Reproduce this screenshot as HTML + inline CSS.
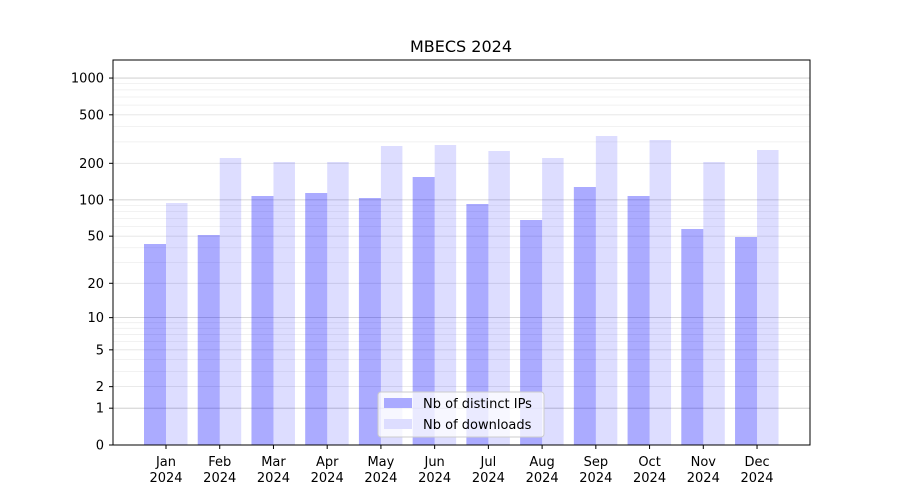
<!DOCTYPE html>
<html><head><meta charset="utf-8"><style>body{margin:0;background:#fff}svg{display:block}text{font-family:"DejaVu Sans","Liberation Sans",sans-serif;fill:#000}</style></head><body>
<svg width="900" height="500" viewBox="0 0 900 500" xmlns="http://www.w3.org/2000/svg">
<rect width="900" height="500" fill="#fff"/>
<g id="grid"></g>
<g id="bars"></g>
<rect x="113" y="60" width="697" height="385" fill="none" stroke="#000" stroke-width="1"/>
<g id="yt" font-size="13"></g>
<g id="xt" font-size="13"></g>
<text x="461" y="52" font-size="16" text-anchor="middle">MBECS 2024</text>
<g>
<rect x="378" y="392" width="166" height="45" rx="3" fill="#fff" fill-opacity="0.75" stroke="#ccc"/>
<rect x="384" y="398" width="28" height="10" fill="#aaaaff"/>
<text x="423" y="408" font-size="13">Nb of distinct IPs</text>
<rect x="384" y="419" width="28" height="10" fill="#ddddff"/>
<text x="423" y="429" font-size="13">Nb of downloads</text>
</g>
<script>
const ns="http://www.w3.org/2000/svg";
function Y(v){return 445-122.3*Math.log10(v+1);}
function el(p,t,a,txt){const e=document.createElementNS(ns,t);for(const k in a)e.setAttribute(k,a[k]);if(txt!==undefined)e.textContent=txt;document.getElementById(p).appendChild(e);}
[3,4,6,7,8,9,30,40,60,70,80,90,300,400,600,700,800,900].forEach(v=>{const y=Y(v);el("grid","line",{x1:113,x2:810,y1:y,y2:y,stroke:"#eee","stroke-width":0.8});});
[0,1,2,5,10,20,50,100,200,500,1000].forEach(v=>{const y=Y(v);
 const major=[0,1,10,100,1000].includes(v);
 el("grid","line",{x1:113,x2:810,y1:y,y2:y,stroke:major?"#c8c8c8":"#e4e4e4","stroke-width":0.8});
 el("yt","line",{x1:109,x2:113,y1:y,y2:y,stroke:"#000"});
 el("yt","text",{x:104,y:y+4.5,"text-anchor":"end"},String(v));});
const ip=[244,235,196,193,198,177,204,220,187,196,229,237];
const dl=[203,158,162,162,146,145,151,158,136,140,162,150];
const m=["Jan","Feb","Mar","Apr","May","Jun","Jul","Aug","Sep","Oct","Nov","Dec"];
for(let i=0;i<12;i++){const c=166+i*53.73;
 el("bars","rect",{x:c-22,y:ip[i],width:22,height:445-ip[i],fill:"#0000ff","fill-opacity":0.33});
 el("bars","rect",{x:c,y:dl[i],width:21.5,height:445-dl[i],fill:"#0000ff","fill-opacity":0.135});
 el("xt","line",{x1:c,x2:c,y1:445,y2:449,stroke:"#000"});
 el("xt","text",{x:c,y:466,"text-anchor":"middle"},m[i]);
 el("xt","text",{x:c,y:482,"text-anchor":"middle"},"2024");}
</script>
</svg>
</body></html>
